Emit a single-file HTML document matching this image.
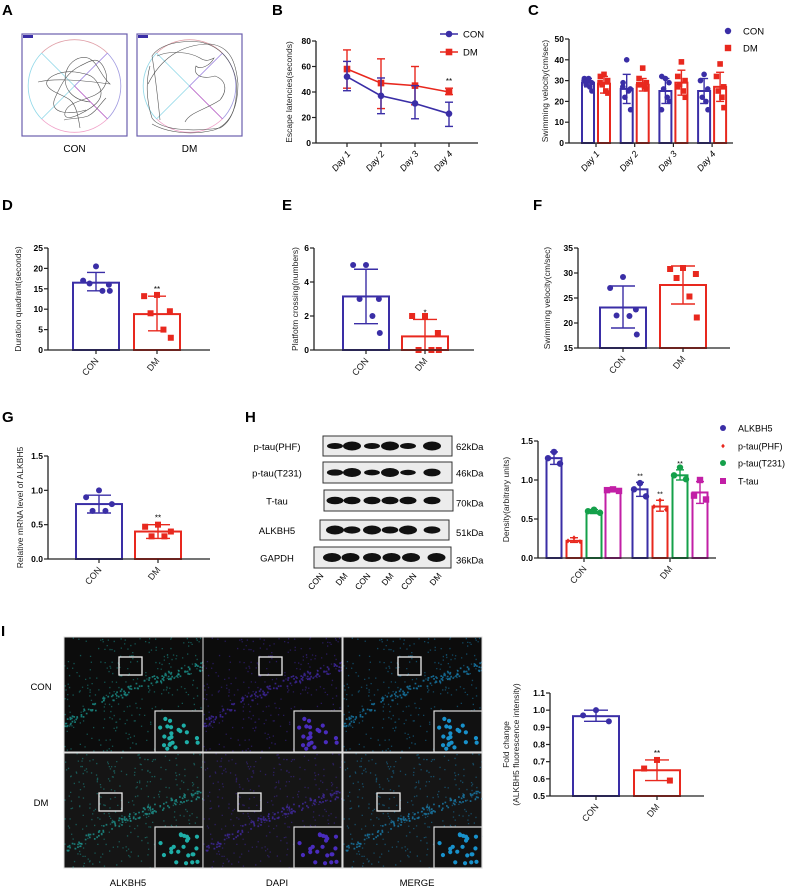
<!DOCTYPE html>
<html><head><meta charset="utf-8"><style>
html,body{margin:0;padding:0;background:#fff;}
svg{display:block;font-family:"Liberation Sans",Arial,sans-serif;}
</style></head><body>
<svg id="fig" width="790" height="888" viewBox="0 0 790 888" xmlns="http://www.w3.org/2000/svg"></svg>
<script>
// ---------- DATA ----------
const groups = ['CON','DM'];
// B: escape latencies
const bDays = ['Day 1','Day 2','Day 3','Day 4'];
const bConMean = [52, 37, 31, 23];
const bConHi = [64, 51, 45, 32];
const bConLo = [41, 23, 19, 13];
const bDmMean = [58, 47, 45, 40];
const bDmHi = [73, 66, 60, 43];
const bDmLo = [43, 27, 30, 38];
const bTicks = [0, 20, 40, 60, 80];
// C: swimming velocity per day
const cTicks = [0, 10, 20, 30, 40, 50];
const cConMean = [29, 26, 25, 25];
const cConHi = [31, 33, 31, 31];
const cConLo = [27, 19, 19, 19];
const cDmMean = [28.5, 28, 29, 27];
const cDmHi = [32, 31, 35, 34];
const cDmLo = [24, 25, 23, 20];
const cConPts = [[30,31,29,28,27,25,30,31],[40,29,26,22,25,16,27],[31,32,29,26,22,20,16],[33,30,26,22,20,16]];
const cDmPts = [[33,32,30,28,25,24,29],[36,31,29,28,27,26,28],[39,32,30,28,25,22,27],[38,32,27,25,22,17]];
// D
const dMean = [16.5, 8.8];
const dLo = [14.5, 4.7];
const dHi = [19, 13.2];
const dPts = [[20.5,17,16,16.3,14.5,14.5],[13.5,13.2,9.5,9,5,3]];
const dTicks = [0,5,10,15,20,25];
// E
const eMean = [3.15, 0.8];
const eLo = [1.55, 0];
const eHi = [4.75, 1.8];
const ePts = [[5,5,3,3,2,1],[2,2,1,0,0,0]];
const eTicks = [0,2,4,6];
// F
const fMean = [23.1, 27.6];
const fLo = [19, 23.8];
const fHi = [27.4, 31.4];
const fPts = [[29.2,27,22.7,21.5,21.4,17.7],[31,30.8,29.8,29,25.3,21.1]];
const fTicks = [15,20,25,30,35];
// G
const gMean = [0.8, 0.4];
const gLo = [0.67, 0.3];
const gHi = [0.93, 0.5];
const gPts = [[1.0,0.9,0.8,0.7,0.7],[0.5,0.47,0.4,0.33,0.33]];
const gTicks = [0,0.5,1.0,1.5];
// H densitometry
const hSeries = ['ALKBH5','p-tau(PHF)','p-tau(T231)','T-tau'];
const hConMean = [1.28, 0.22, 0.59, 0.87];
const hDmMean = [0.88, 0.66, 1.06, 0.84];
const hConLo = [1.2, 0.2, 0.57, 0.86];
const hConHi = [1.36, 0.26, 0.62, 0.88];
const hDmLo = [0.79, 0.6, 1.0, 0.7];
const hDmHi = [0.97, 0.74, 1.13, 0.98];
const hConPts = [[1.36,1.28,1.21],[0.26,0.22,0.21],[0.62,0.6,0.58],[0.88,0.87,0.86]];
const hDmPts = [[0.96,0.88,0.79],[0.74,0.66,0.62],[1.16,1.06,1.01],[1.0,0.8,0.75]];
const hTicks = [0,0.5,1.0,1.5];
const blotRows = ['p-tau(PHF)','p-tau(T231)','T-tau','ALKBH5','GAPDH'];
const blotKda = ['62kDa','46kDa','70kDa','51kDa','36kDa'];
const blotLanes = ['CON','DM','CON','DM','CON','DM'];
// I
const iMean = [0.965, 0.65];
const iLo = [0.935, 0.59];
const iHi = [1.0, 0.71];
const iPts = [[1.0,0.97,0.935],[0.71,0.66,0.59]];
const iTicks = [0.5,0.6,0.7,0.8,0.9,1.0,1.1];

// ---------- HELPERS ----------
const NS='http://www.w3.org/2000/svg';
const svg=document.getElementById('fig');
const BLUE='#3a2ea6', RED='#e8281e', GREEN='#14a04a', MAG='#c21fa6';
function mk(tag, attrs, parent){const e=document.createElementNS(NS,tag);for(const k in attrs)e.setAttribute(k,attrs[k]);(parent||svg).appendChild(e);return e;}
function txt(s,x,y,attrs,parent){const e=mk('text',Object.assign({x:x,y:y},attrs||{}),parent);e.textContent=s;return e;}
function fmt(v,dec){return dec?v.toFixed(dec):String(v);}
function marker(kind,x,y,color,parent,size){
  let e;
  const s=size||3;
  if(kind==='circle') e=mk('circle',{cx:x,cy:y,r:s,fill:color},parent);
  else if(kind==='diamond') e=mk('path',{d:`M${x},${y-s} L${x+s*0.8},${y} L${x},${y+s} L${x-s*0.8},${y}Z`,fill:color},parent);
  else e=mk('rect',{x:x-s,y:y-s,width:2*s,height:2*s,fill:color},parent);
  
  
  return e;
}
function panelLetter(s,x,y){const t=txt(s,x,y,{'font-size':15,'font-weight':'bold'});}
function yAxis(g,ax,yTop,yBot,min,max,ticks,dec,title,titleX){
  const ys=v=>yBot-(v-min)/(max-min)*(yBot-yTop);
  const l=mk('line',{x1:ax,y1:yTop,x2:ax,y2:yBot,stroke:'#222','stroke-width':1.3},g);
  
  ticks.forEach(t=>{
    mk('line',{x1:ax-4,y1:ys(t),x2:ax,y2:ys(t),stroke:'#222','stroke-width':1.2},g);
    const tl=txt(fmt(t,dec),ax-5,ys(t)+3,{'font-size':8.5,'font-weight':'bold','text-anchor':'end'},g);
    
  });
  if(title){
    const lines=Array.isArray(title)?title:[title];
    lines.forEach((ln,i)=>{
      const cy=(yTop+yBot)/2, tx=titleX+i*10;
      const tt=txt(ln,tx,cy,{'font-size':8.5,'text-anchor':'middle',transform:`rotate(-90 ${tx} ${cy})`,fill:'#222'},g);
      
    });
  }
  return ys;
}
function xAxis(g,ax,xEnd,yBot,cats,xs){
  const l=mk('line',{x1:ax,y1:yBot,x2:xEnd,y2:yBot,stroke:'#222','stroke-width':1.3},g);
  
  cats.forEach((c,i)=>{
    mk('line',{x1:xs[i],y1:yBot,x2:xs[i],y2:yBot+4,stroke:'#222','stroke-width':1.2},g);
    const tx=xs[i]+3, ty=yBot+11;
    const t=txt(c,tx,ty,{'font-size':9,'text-anchor':'end',transform:`rotate(-50 ${tx} ${ty})`,fill:'#222'},g);
    
  });
}
function errBar(g,x,ys,lo,hi,cap,color){
  mk('line',{x1:x,y1:ys(lo),x2:x,y2:ys(hi),stroke:color,'stroke-width':1.4},g);
  mk('line',{x1:x-cap,y1:ys(lo),x2:x+cap,y2:ys(lo),stroke:color,'stroke-width':1.4},g);
  mk('line',{x1:x-cap,y1:ys(hi),x2:x+cap,y2:ys(hi),stroke:color,'stroke-width':1.4},g);
}
function bar(g,cx,w,ys,base,val,color,name){
  const b=mk('rect',{x:cx-w/2,y:ys(val),width:w,height:ys(base)-ys(val),fill:'#fff',stroke:color,'stroke-width':2},g);
  
}
const jit=[0,-0.28,0.28,-0.14,0.14,0.3,-0.3,0.05];
function twoBarChart(name,cfg,mean,lo,hi,pts,stars){
  const g=mk('g',{});
  
  const ys=yAxis(g,cfg.ax,cfg.yTop,cfg.yBot,cfg.min,cfg.max,cfg.ticks,cfg.dec,cfg.title,cfg.titleX);
  const cols=[BLUE,RED], kinds=['circle','square'];
  mean.forEach((m,i)=>{
    const cx=cfg.cx[i];
    bar(g,cx,cfg.w,ys,cfg.min,m,cols[i],'bar-'+groups[i].toLowerCase());
    errBar(g,cx,ys,lo[i],hi[i],cfg.cap,cols[i]);
    pts[i].forEach((p,j)=>marker(kinds[i],cx+jit[j%jit.length]*cfg.w,ys(p),cols[i],g,3));
  });
  xAxis(g,cfg.ax,cfg.xEnd,cfg.yBot,groups,cfg.cx);
  if(stars){const s=txt(stars,cfg.cx[1],ys(hi[1])-4,{'font-size':8,'text-anchor':'middle'},g);}
}

// ---------- PANEL A ----------
panelLetter('A',2,15);
function maze(x0,name,lbl,paths){
  const g=mk('g',{});
  mk('rect',{x:x0,y:34,width:105,height:102,fill:'#fff',stroke:'#6b5fae','stroke-width':1.2},g);
  mk('rect',{x:x0+1,y:35,width:10,height:3,fill:'#3a2ea6'},g);
  const cx=x0+52.5, cy=86, r=47;
  mk('path',{d:`M${cx-r*0.7},${cy-r*0.7} A${r},${r} 0 0 1 ${cx+r*0.7},${cy-r*0.7}`,fill:'none',stroke:'#e0a0a8','stroke-width':0.8},g);
  mk('path',{d:`M${cx+r*0.7},${cy-r*0.7} A${r},${r} 0 0 1 ${cx+r*0.7},${cy+r*0.7}`,fill:'none',stroke:'#a09ae0','stroke-width':0.8},g);
  mk('path',{d:`M${cx+r*0.7},${cy+r*0.7} A${r},${r} 0 0 1 ${cx-r*0.7},${cy+r*0.7}`,fill:'none',stroke:'#f0a0c8','stroke-width':0.8},g);
  mk('path',{d:`M${cx-r*0.7},${cy+r*0.7} A${r},${r} 0 0 1 ${cx-r*0.7},${cy-r*0.7}`,fill:'none',stroke:'#90d8e8','stroke-width':0.8},g);
  mk('line',{x1:cx-r*0.7,y1:cy-r*0.7,x2:cx,y2:cy,stroke:'#90d8e8','stroke-width':0.8},g);
  mk('line',{x1:cx-r*0.7,y1:cy+r*0.7,x2:cx,y2:cy,stroke:'#90d8e8','stroke-width':0.8},g);
  mk('line',{x1:cx+r*0.7,y1:cy-r*0.7,x2:cx,y2:cy,stroke:'#9a80e0','stroke-width':0.8},g);
  mk('line',{x1:cx+r*0.7,y1:cy+r*0.7,x2:cx,y2:cy,stroke:'#b050c0','stroke-width':0.8},g);
  paths.forEach(p=>mk('path',{d:p,fill:'none',stroke:'#555','stroke-width':0.6},g));
  const t=txt(lbl,cx,152,{'font-size':10,'text-anchor':'middle'},g);
}
maze(22,'maze-track-con','CON',[
 'M80,128 C78,115 76,105 70,100 S50,92 47,85 S60,70 75,72 S95,76 100,88 S92,108 80,114 S62,118 66,110 S85,100 95,95 S110,80 104,68 S92,60 80,66 S62,82 55,98 S70,115 86,110',
 'M38,82 C55,78 80,80 110,84 C100,75 98,62 88,58 C80,56 70,60 66,72 C62,88 72,100 90,102',
 'M106,98 C100,104 96,112 88,116 C80,119 70,118 64,120']);
maze(137,'maze-track-dm','DM',[
 'M150,66 C146,80 146,100 152,118 C160,130 190,132 220,128 C234,120 238,100 236,80 C232,60 220,46 200,42 C180,40 160,44 152,56 C156,80 158,100 160,120',
 'M148,84 C160,60 180,44 210,44 C230,46 236,62 238,84 C238,104 232,124 214,130 C190,136 166,132 152,124',
 'M157,56 C170,50 190,52 200,58 C206,62 210,60 214,58 C210,66 200,70 196,66 C193,74 200,80 215,76 C226,80 228,90 220,100 C205,110 190,112 185,122']);

// ---------- PANEL B ----------
panelLetter('B',272,15);
(function(){
  const g=mk('g',{});
  const ys=yAxis(g,316,41,143,0,80,bTicks,0,'Escape latencies(seconds)',292);
  const xs=bDays.map((d,i)=>347+i*34);
  const l=mk('line',{x1:316,y1:143,x2:478,y2:143,stroke:'#222','stroke-width':1.3},g);
  
  bDays.forEach((d,i)=>{
    mk('line',{x1:xs[i],y1:143,x2:xs[i],y2:147,stroke:'#222','stroke-width':1.2},g);
    const tx=xs[i]+4,ty=154;
    const t=txt(d,tx,ty,{'font-size':9,'font-style':'italic','text-anchor':'end',transform:`rotate(-50 ${tx} ${ty})`},g);
    
  });
  [[bDmMean,bDmLo,bDmHi,RED,'square','line-dm'],[bConMean,bConLo,bConHi,BLUE,'circle','line-con']].forEach(s=>{
    const [m,lo,hi,col,kind,nm]=s;
    m.forEach((v,i)=>errBar(g,xs[i],ys,lo[i],hi[i],4,col));
    const pl=mk('polyline',{points:m.map((v,i)=>xs[i]+','+ys(v)).join(' '),fill:'none',stroke:col,'stroke-width':1.6},g);
    
    m.forEach((v,i)=>marker(kind,xs[i],ys(v),col,g,3.3));
  });
  const st=txt('**',xs[3],ys(bDmHi[3])-4,{'font-size':8,'text-anchor':'middle'},g);
  const lg=mk('g',{},g);
  mk('line',{x1:440,y1:34,x2:458,y2:34,stroke:BLUE,'stroke-width':1.6},lg);marker('circle',449,34,BLUE,lg,3.3);
  txt('CON',463,37.5,{'font-size':9.5},lg);
  mk('line',{x1:440,y1:52,x2:458,y2:52,stroke:RED,'stroke-width':1.6},lg);marker('square',449,52,RED,lg,3.3);
  txt('DM',463,55.5,{'font-size':9.5},lg);
})();

// ---------- PANEL C ----------
panelLetter('C',528,15);
(function(){
  const g=mk('g',{});
  const ys=yAxis(g,569,39,143,0,50,cTicks,0,'Swimming velocity(cm/sec)',548);
  const gc=bDays.map((d,i)=>596+i*38.7);
  bDays.forEach((d,i)=>{
    [[cConMean,cConLo,cConHi,cConPts,BLUE,'circle',-8,'con'],[cDmMean,cDmLo,cDmHi,cDmPts,RED,'square',8,'dm']].forEach(s=>{
      const [m,lo,hi,pts,col,kind,off,nm]=s; const cx=gc[i]+off;
      bar(g,cx,12,ys,0,m[i],col,'bar-'+nm+'-day'+(i+1));
      errBar(g,cx,ys,lo[i],hi[i],4,col);
      pts[i].forEach((p,j)=>marker(kind,cx+jit[j%jit.length]*13,ys(p),col,g,2.8));
    });
  });
  xAxis(g,569,733,143,[],[]);
  bDays.forEach((d,i)=>{
    mk('line',{x1:gc[i],y1:143,x2:gc[i],y2:147,stroke:'#222','stroke-width':1.2},g);
    const tx=gc[i]+4,ty=154;
    const t=txt(d,tx,ty,{'font-size':9,'font-style':'italic','text-anchor':'end',transform:`rotate(-50 ${tx} ${ty})`},g);
    
  });
  const lg=mk('g',{},g);
  marker('circle',728,31,BLUE,lg,3.2);txt('CON',743,34.5,{'font-size':9.5},lg);
  marker('square',728,48,RED,lg,3.2);txt('DM',743,51.5,{'font-size':9.5},lg);
})();

// ---------- PANELS D,E,F ----------
panelLetter('D',2,210);
twoBarChart('chart-duration-quadrant',{ax:48,yTop:248,yBot:350,min:0,max:25,ticks:dTicks,dec:0,title:'Duration quadrant(seconds)',titleX:21,cx:[96,157],w:46,cap:9,xEnd:210},dMean,dLo,dHi,dPts,'**');
panelLetter('E',282,210);
twoBarChart('chart-platform-crossing',{ax:314,yTop:248,yBot:350,min:0,max:6,ticks:eTicks,dec:0,title:'Platfotm crossing(numbers)',titleX:298,cx:[366,425],w:46,cap:12,xEnd:474},eMean,eLo,eHi,ePts,'*');
panelLetter('F',533,210);
twoBarChart('chart-swimming-velocity',{ax:578,yTop:248,yBot:348,min:15,max:35,ticks:fTicks,dec:0,title:'Swimming velocity(cm/sec)',titleX:550,cx:[623,683],w:46,cap:12,xEnd:730},fMean,fLo,fHi,fPts,null);

// ---------- PANEL G ----------
panelLetter('G',2,422);
twoBarChart('chart-mrna-alkbh5',{ax:48,yTop:456,yBot:559,min:0,max:1.5,ticks:gTicks,dec:1,title:'Relative mRNA level of ALKBH5',titleX:23,cx:[99,158],w:46,cap:12,xEnd:210},gMean,gLo,gHi,gPts,'**');

// ---------- PANEL H: blot ----------
panelLetter('H',245,422);
(function(){
  const g=mk('g',{});
  const boxes=[[323,436,129,20],[323,462,129,21],[324,490,129,21],[320,520,129,20],[314,547,137,21]];
  const laneX=[335,352,372,390,408,432];
  const bw=[[0.5,1,0.5,1,0.5,1],[0.55,1,0.45,1,0.4,0.8],[0.75,0.75,0.75,0.75,0.75,0.75],[1,0.7,1,0.65,1,0.7],[1,1,1,1,1,1]];
  boxes.forEach((b,r)=>{
    const rg=mk('g',{},g);
    mk('rect',{x:b[0],y:b[1],width:b[2],height:b[3],fill:'#ececec',stroke:'#333','stroke-width':1},rg);
    laneX.forEach((lx,k)=>{
      const s=bw[r][k];
      mk('ellipse',{cx:lx+(r==4?-3+k*1.5:0),cy:b[1]+b[3]/2,rx:7+2*s,ry:1.5+3*s,fill:'#111'},rg);
    });
    txt(blotRows[r],277,b[1]+b[3]/2+4,{'font-size':9.5,'text-anchor':'middle'},rg);
    txt(blotKda[r],456,b[1]+b[3]/2+(r>=2?6:4),{'font-size':9.5},rg);
  });
  const lx2=[320,344,367,390,413,438];
  blotLanes.forEach((l,i)=>{
    const tx=lx2[i]+4,ty=576;
    const t=txt(l,tx,ty,{'font-size':8.5,'text-anchor':'end',transform:`rotate(-50 ${tx} ${ty})`},g);
    
  });
})();
// ---------- PANEL H: chart ----------
(function(){
  const g=mk('g',{});
  const ys=yAxis(g,538,441,558,0,1.5,hTicks,1,'Density(arbitrary units)',509);
  const cols=[BLUE,RED,GREEN,MAG], kinds=['circle','diamond','circle','square'];
  const conX=[554,574,594,613], dmX=[640,660,680,700];
  const off=[0,-0.3,0.3];
  hSeries.forEach((s,i)=>{
    [[hConMean,hConLo,hConHi,hConPts,conX,'con'],[hDmMean,hDmLo,hDmHi,hDmPts,dmX,'dm']].forEach(q=>{
      const [m,lo,hi,pts,xs,nm]=q;
      bar(g,xs[i],15,ys,0,m[i],cols[i],'bar-'+nm+'-'+s.toLowerCase().replace(/[^a-z0-9]+/g,''));
      errBar(g,xs[i],ys,lo[i],hi[i],4,cols[i]);
      pts[i].forEach((p,j)=>marker(kinds[i],xs[i]+off[j]*20,ys(p),cols[i],g,i==1?2.5:3.2));
      if(nm==='dm'&&i<3){const st=txt('**',xs[i],ys(hi[i])-4,{'font-size':7.5,'text-anchor':'middle'},g);}
    });
  });
  xAxis(g,538,716,558,groups,[584,670]);
  const lg=mk('g',{},g);
  const ly=[428,446,463,481];
  hSeries.forEach((s,i)=>{marker(kinds[i],723,ly[i],cols[i],lg,i==1?2.3:3);txt(s,738,ly[i]+3.5,{'font-size':9},lg);});
})();

// ---------- PANEL I: fluorescence ----------
panelLetter('I',1,636);
(function(){
  const g=mk('g',{});
  const colX=[64,203,343], rowY=[637,753], W=139, H=115;
  const tint=['#20c0b8','#5030d0','#1aa0e0'];
  let seed=12345; const rnd=()=>{seed=(seed*1103515245+12345)%2147483648;return seed/2147483648;};
  const sq=[[[119,657],[259,657],[398,657]],[[99,793],[238,793],[377,793]]];
  rowY.forEach((ry,r)=>{
    colX.forEach((cx,c)=>{
      const cg=mk('g',{},g);
      mk('rect',{x:cx,y:ry,width:W,height:H,fill:r==0?'#0c0c0c':'#151515'},cg);
      let d='';
      seed=1000+r*7;
      for(let k=0;k<320;k++){
        const x=cx+rnd()*W, y=ry+rnd()*H;
        d+=`M${x.toFixed(1)},${y.toFixed(1)}h1.3v1.3h-1.3z`;
      }
      mk('path',{d:d,fill:tint[c],opacity:0.4},cg);
      let d2='';
      for(let k=0;k<130;k++){
        const t=rnd(); const x=cx+t*W;
        const yc=ry+H*(0.75-0.75*t+0.25*t*t) + (r==1?12:0);
        const y=yc+(rnd()-0.5)*9;
        d2+=`M${x.toFixed(1)},${y.toFixed(1)}h1.7v1.7h-1.7z`;
      }
      mk('path',{d:d2,fill:tint[c],opacity:0.6},cg);
      mk('rect',{x:cx+W-48,y:ry+H-41,width:48,height:41,fill:'#111',stroke:'#ddd','stroke-width':1.2},cg);
      let d3='';
      for(let k=0;k<22;k++){const x=cx+W-44+rnd()*40,y=ry+H-36+rnd()*32;d3+=`M${x.toFixed(1)},${y.toFixed(1)}a2.1,2.1 0 1 0 0.1,0z`;}
      mk('path',{d:d3,fill:tint[c],opacity:0.9},cg);
      const s=sq[r][c];
      mk('rect',{x:s[0],y:s[1],width:23,height:18,fill:'none',stroke:'#eee','stroke-width':1.3},cg);
      mk('rect',{x:cx,y:ry,width:W,height:H,fill:'none',stroke:'#ddd','stroke-width':1},cg);
    });
  });
  txt('CON',41,690,{'font-size':9.5,'text-anchor':'middle'},g);
  txt('DM',41,806,{'font-size':9.5,'text-anchor':'middle'},g);
  ['ALKBH5','DAPI','MERGE'].forEach((s,i)=>txt(s,[128,277,417][i],886,{'font-size':9.5,'text-anchor':'middle'},g));
})();
twoBarChart('chart-fluorescence-fold-change',{ax:550,yTop:693,yBot:796,min:0.5,max:1.1,ticks:iTicks,dec:1,title:['Fold change','(ALKBH5 fluorescence intensity)'],titleX:509,cx:[596,657],w:46,cap:12,xEnd:704},iMean,iLo,iHi,iPts,'**');
</script>
</body></html>
